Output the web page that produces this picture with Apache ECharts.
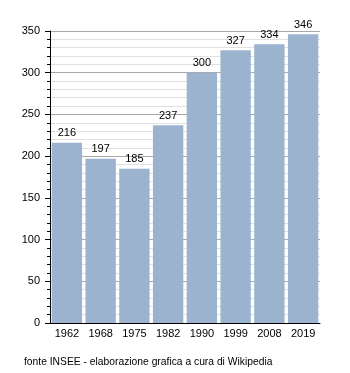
<!DOCTYPE html>
<html>
<head>
<meta charset="utf-8">
<script src="https://cdn.jsdelivr.net/npm/echarts@6/dist/echarts.min.js"></script>
<style>
  html, body { margin: 0; padding: 0; background: #fff; }
  #chart { width: 350px; height: 373px; }
</style>
</head>
<body>
<div id="chart"></div>
<script>
// Census years and resident population
const years = ['1962', '1968', '1975', '1982', '1990', '1999', '2008', '2019'];
const population = [216, 197, 185, 237, 300, 327, 334, 346];
const yTicks = [0, 50, 100, 150, 200, 250, 300, 350];
const sourceNote = 'fonte INSEE - elaborazione grafica a cura di Wikipedia';

const chart = echarts.init(document.getElementById('chart'), null, { renderer: 'canvas' });
const font = 'Liberation Sans, Arial, sans-serif';

chart.setOption({
  animation: false,
  backgroundColor: '#ffffff',
  textStyle: { fontFamily: font },
  graphic: [{
    type: 'text',
    left: 24,
    top: 357,
    style: { text: sourceNote, font: '10.3px ' + font, fill: '#000' }
  }],
  grid: { left: 50, right: 30, top: 31, bottom: 50 },
  xAxis: {
    type: 'category',
    data: years,
    axisLine: { lineStyle: { color: '#000', width: 1 } },
    axisTick: { show: false },
    axisLabel: { color: '#000', fontSize: 11, fontFamily: font, margin: 5 }
  },
  yAxis: {
    type: 'value',
    min: yTicks[0],
    max: yTicks[yTicks.length - 1],
    interval: 50,
    axisLine: { show: true, lineStyle: { color: '#000', width: 1 } },
    axisTick: { show: true, length: 5, lineStyle: { color: '#000' } },
    minorTick: { show: true, splitNumber: 5, length: 3, lineStyle: { color: '#000' } },
    axisLabel: { color: '#000', fontSize: 11, fontFamily: font, margin: 10 },
    splitLine: { show: true, lineStyle: { color: '#a8a8a8', width: 1 } },
    minorSplitLine: { show: true, lineStyle: { color: '#e0e0e0', width: 1 } }
  },
  series: [{
    type: 'bar',
    data: population,
    barCategoryGap: '10%',
    itemStyle: { color: '#9bb3cf' },
    label: {
      show: true,
      position: 'top',
      distance: 4,
      color: '#000',
      fontSize: 11,
      fontFamily: font
    }
  }]
});
</script>
</body>
</html>
